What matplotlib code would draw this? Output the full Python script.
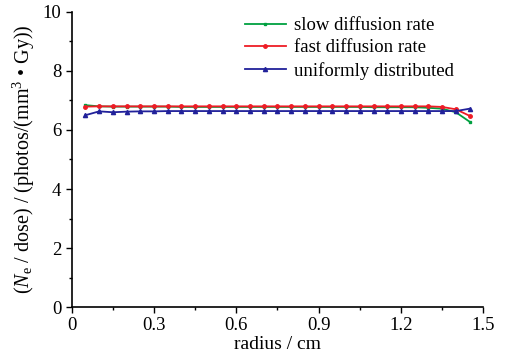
import numpy as np
import matplotlib
matplotlib.use("Agg")
import matplotlib.pyplot as plt
from matplotlib.ticker import MultipleLocator

plt.rcParams['font.family'] = ['Liberation Serif', 'DejaVu Serif']
plt.rcParams['mathtext.fontset'] = 'custom'
plt.rcParams['mathtext.rm'] = 'Liberation Serif'
plt.rcParams['mathtext.it'] = 'Liberation Serif:italic'

radius = [0.05, 0.10, 0.15, 0.20, 0.25, 0.30, 0.35, 0.40, 0.45, 0.50, 0.55, 0.60, 0.65, 0.70,
          0.75, 0.80, 0.85, 0.90, 0.95, 1.00, 1.05, 1.10, 1.15, 1.20, 1.25, 1.30, 1.35, 1.40, 1.45]
slow = [6.84, 6.80, 6.79, 6.79, 6.79, 6.79, 6.79, 6.78, 6.78, 6.78, 6.78, 6.78, 6.78, 6.78,
        6.78, 6.78, 6.78, 6.78, 6.78, 6.78, 6.78, 6.77, 6.77, 6.77, 6.77, 6.75, 6.72, 6.60, 6.28]
fast = [6.79, 6.80, 6.80, 6.80, 6.80, 6.80, 6.80, 6.80, 6.80, 6.80, 6.80, 6.80, 6.80, 6.80,
        6.80, 6.80, 6.80, 6.80, 6.80, 6.80, 6.80, 6.80, 6.80, 6.80, 6.80, 6.80, 6.78, 6.70, 6.48]
uniform = [6.50, 6.63, 6.60, 6.62, 6.63, 6.63, 6.64, 6.64, 6.64, 6.64, 6.64, 6.64, 6.64, 6.64,
           6.64, 6.64, 6.64, 6.64, 6.64, 6.64, 6.64, 6.64, 6.64, 6.64, 6.64, 6.64, 6.64, 6.64, 6.72]

fig = plt.figure(figsize=(5.05, 3.60), dpi=100)
ax = fig.add_axes([0.142, 0.147, 0.815, 0.82])

ax.plot(radius, slow, color='#00a040', marker='s', markersize=2, lw=1.3, label='slow diffusion rate')
ax.plot(radius, fast, color='#ee1c25', marker='o', markersize=2.5, lw=1.3, label='fast diffusion rate')
ax.plot(radius, uniform, color='#21219a', marker='^', markersize=3, lw=1.3, label='uniformly distributed')

ax.set_xlim(0, 1.5)
ax.set_ylim(0, 10)
ax.xaxis.set_major_locator(MultipleLocator(0.3))
ax.xaxis.set_minor_locator(MultipleLocator(0.15))
ax.yaxis.set_major_locator(MultipleLocator(2))
ax.yaxis.set_minor_locator(MultipleLocator(1))
ax.set_xticks([0, 0.3, 0.6, 0.9, 1.2, 1.5])
ax.set_xticklabels(['0', '0.3', '0.6', '0.9', '1.2', '1.5'])
ax.tick_params(which='both', direction='out', labelsize=13.5, width=1)
ax.tick_params(which='major', length=4)
ax.tick_params(which='minor', length=2.5)
for s in ['top', 'right']:
    ax.spines[s].set_visible(False)
for s in ['left', 'bottom']:
    ax.spines[s].set_linewidth(1.2)

ax.set_xlabel('radius / cm', fontsize=14, labelpad=1)
ax.set_ylabel(r'($N_{\rm e}$ / dose) / (photos/(mm$^3$ • Gy))', fontsize=14.5, labelpad=4)

ax.legend(loc='upper right', bbox_to_anchor=(0.97, 1.04), frameon=False, fontsize=13.5,
          handlelength=2.2, handletextpad=0.45, labelspacing=0.28)

fig.savefig('out.png', dpi=100)
